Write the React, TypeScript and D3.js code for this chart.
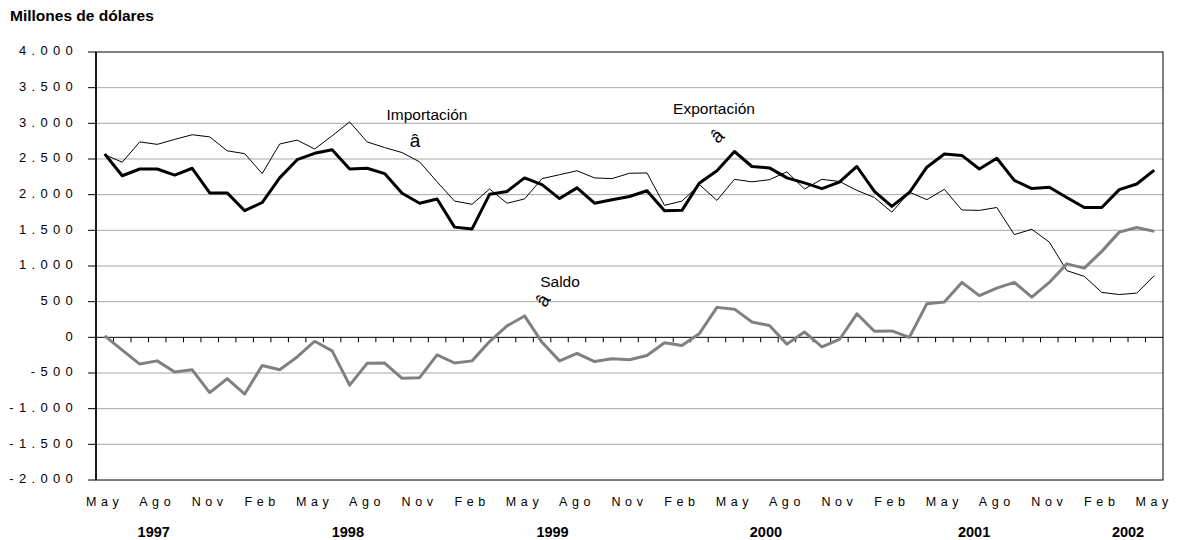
import React from 'react';
import * as d3 from 'd3';

// Categories: monthly, May 1997 .. May 2002
const monthNames = ['Ene', 'Feb', 'Mar', 'Abr', 'May', 'Jun', 'Jul', 'Ago', 'Sep', 'Oct', 'Nov', 'Dic'];
const categories: string[] = [];
for (let k = 0; k < 61; k++) {
  const m = (4 + k) % 12;
  const y = 1997 + Math.floor((4 + k) / 12);
  categories.push(`${monthNames[m]} ${y}`);
}

const exportacion = [
  2570, 2265, 2360, 2360, 2275, 2370, 2025, 2025, 1775, 1890, 2235, 2490, 2580, 2630, 2360, 2370,
  2295, 2020, 1880, 1940, 1545, 1520, 2005, 2045, 2235, 2140, 1945, 2095, 1880, 1930, 1975, 2055,
  1775, 1780, 2165, 2335, 2605, 2395, 2375, 2235, 2165, 2085, 2175, 2395, 2045, 1835, 2030, 2385,
  2570, 2550, 2360, 2510, 2200, 2085, 2105, 1960, 1820, 1820, 2070, 2150, 2345,
];

const importacion = [
  2560, 2455, 2740, 2705, 2775, 2840, 2810, 2615, 2575, 2295, 2710, 2765, 2640, 2825, 3020, 2740,
  2660, 2590, 2460, 2180, 1910, 1865, 2080, 1880, 1940, 2225, 2280, 2335, 2235, 2225, 2300, 2305,
  1850, 1910, 2140, 1920, 2215, 2180, 2210, 2320, 2080, 2215, 2185, 2060, 1960, 1755, 2035, 1930,
  2075, 1785, 1780, 1820, 1440, 1515, 1335, 935, 855, 630, 600, 620, 865,
];

const saldo = [
  20, -180, -375, -330, -485, -455, -775, -580, -795, -395, -455, -275, -55, -190, -670, -365,
  -360, -575, -565, -245, -360, -330, -60, 160, 300, -70, -330, -225, -340, -300, -315, -255,
  -75, -115, 55, 420, 395, 215, 165, -95, 75, -135, -30, 330, 85, 90, 0, 470,
  495, 770, 585, 690, 770, 565, 770, 1030, 970, 1205, 1475, 1540, 1485,
];

const yTicks = [-2000, -1500, -1000, -500, 0, 500, 1000, 1500, 2000, 2500, 3000, 3500, 4000];
const yearLabels = ['1997', '1998', '1999', '2000', '2001', '2002'];
const yearAnchors = [2.8, 13.9, 25.6, 37.8, 49.7, 58.5]; // in category units

const W = 1177;
const H = 540;
const left = 96;
const right = 1163;
const top = 52;
const bottom = 480;
const FONT = '"Liberation Sans", Arial, Helvetica, sans-serif';

const fmt = d3.formatLocale({ decimal: ',', thousands: '.', grouping: [3], currency: ['', ''], minus: '-' }).format(',');

export default function App() {
  const x = d3.scaleLinear().domain([-0.5, categories.length - 0.5]).range([left, right]);
  const y = d3.scaleLinear().domain([-2000, 4000]).range([bottom, top]);

  const line = d3
    .line<number>()
    .x((_, i) => x(i))
    .y((d) => y(d));

  const boundaries = d3.range(1, categories.length).map((k) => x(k - 0.5));

  return (
    <svg
      width={W}
      height={H}
      style={{ position: 'absolute', left: 0, top: 0, background: '#fff' }}
      fontFamily={FONT}
    >
      <rect x={0} y={0} width={W} height={H} fill="#fff" />
      <text x={10} y={21} fontSize={15.5} fontWeight="bold" fill="#000">
        Millones de dólares
      </text>

      {/* gridlines */}
      {yTicks
        .filter((t) => t !== -2000 && t !== 4000 && t !== 0)
        .map((t) => (
          <line key={t} x1={left} x2={right} y1={y(t)} y2={y(t)} stroke="#a8a8a8" strokeWidth={1} />
        ))}

      {/* plot border */}
      <rect x={left} y={top} width={right - left} height={bottom - top} fill="none" stroke="#000" strokeWidth={1} />

      {/* zero line with ticks */}
      <line x1={left} x2={right} y1={y(0)} y2={y(0)} stroke="#000" strokeWidth={1} />
      {boundaries.map((bx, i) => (
        <line key={i} x1={bx} x2={bx} y1={y(0)} y2={y(0) + 5} stroke="#000" strokeWidth={1} />
      ))}

      {/* y axis */}
      <line x1={left} x2={left} y1={top} y2={bottom} stroke="#000" strokeWidth={1.6} />
      {yTicks.map((t) => (
        <g key={t}>
          <line x1={left - 8} x2={left} y1={y(t)} y2={y(t)} stroke="#000" strokeWidth={1} />
          <text
            x={78}
            y={y(t)}
            textAnchor="end"
            dominantBaseline="middle"
            fontSize={13}
            letterSpacing={5.3}
            fill="#000"
          >
            {fmt(t)}
          </text>
        </g>
      ))}

      {/* series */}
      <path d={line(importacion) || ''} fill="none" stroke="#000" strokeWidth={1} strokeLinejoin="round" />
      <path d={line(saldo) || ''} fill="none" stroke="#808080" strokeWidth={3} strokeLinejoin="round" />
      <path d={line(exportacion) || ''} fill="none" stroke="#000" strokeWidth={3} strokeLinejoin="round" />

      {/* annotations */}
      <text x={427} y={120} textAnchor="middle" fontSize={15.5} fill="#000">
        Importación
      </text>
      <text x={415} y={147} textAnchor="middle" fontSize={19} fill="#000">
        â
      </text>
      <text x={714} y={114} textAnchor="middle" fontSize={15.5} fill="#000">
        Exportación
      </text>
      <text x={718} y={137} textAnchor="middle" dominantBaseline="middle" fontSize={19} fill="#000" transform="rotate(-42 718 137)">
        â
      </text>
      <text x={560} y={287} textAnchor="middle" fontSize={15.5} fill="#000">
        Saldo
      </text>
      <text x={544} y={301} textAnchor="middle" dominantBaseline="middle" fontSize={19} fill="#000" transform="rotate(-58 544 301)">
        â
      </text>

      {/* x labels */}
      {categories.map((c, i) =>
        i % 3 === 0 ? (
          <text key={c} x={x(i)} y={506} textAnchor="middle" fontSize={12.5} letterSpacing={4.6} fill="#000">
            {c.split(' ')[0]}
          </text>
        ) : null
      )}
      {yearLabels.map((yl, i) => (
        <text key={yl} x={x(yearAnchors[i])} y={537} textAnchor="middle" fontSize={14.5} fontWeight="bold" fill="#000">
          {yl}
        </text>
      ))}
    </svg>
  );
}
